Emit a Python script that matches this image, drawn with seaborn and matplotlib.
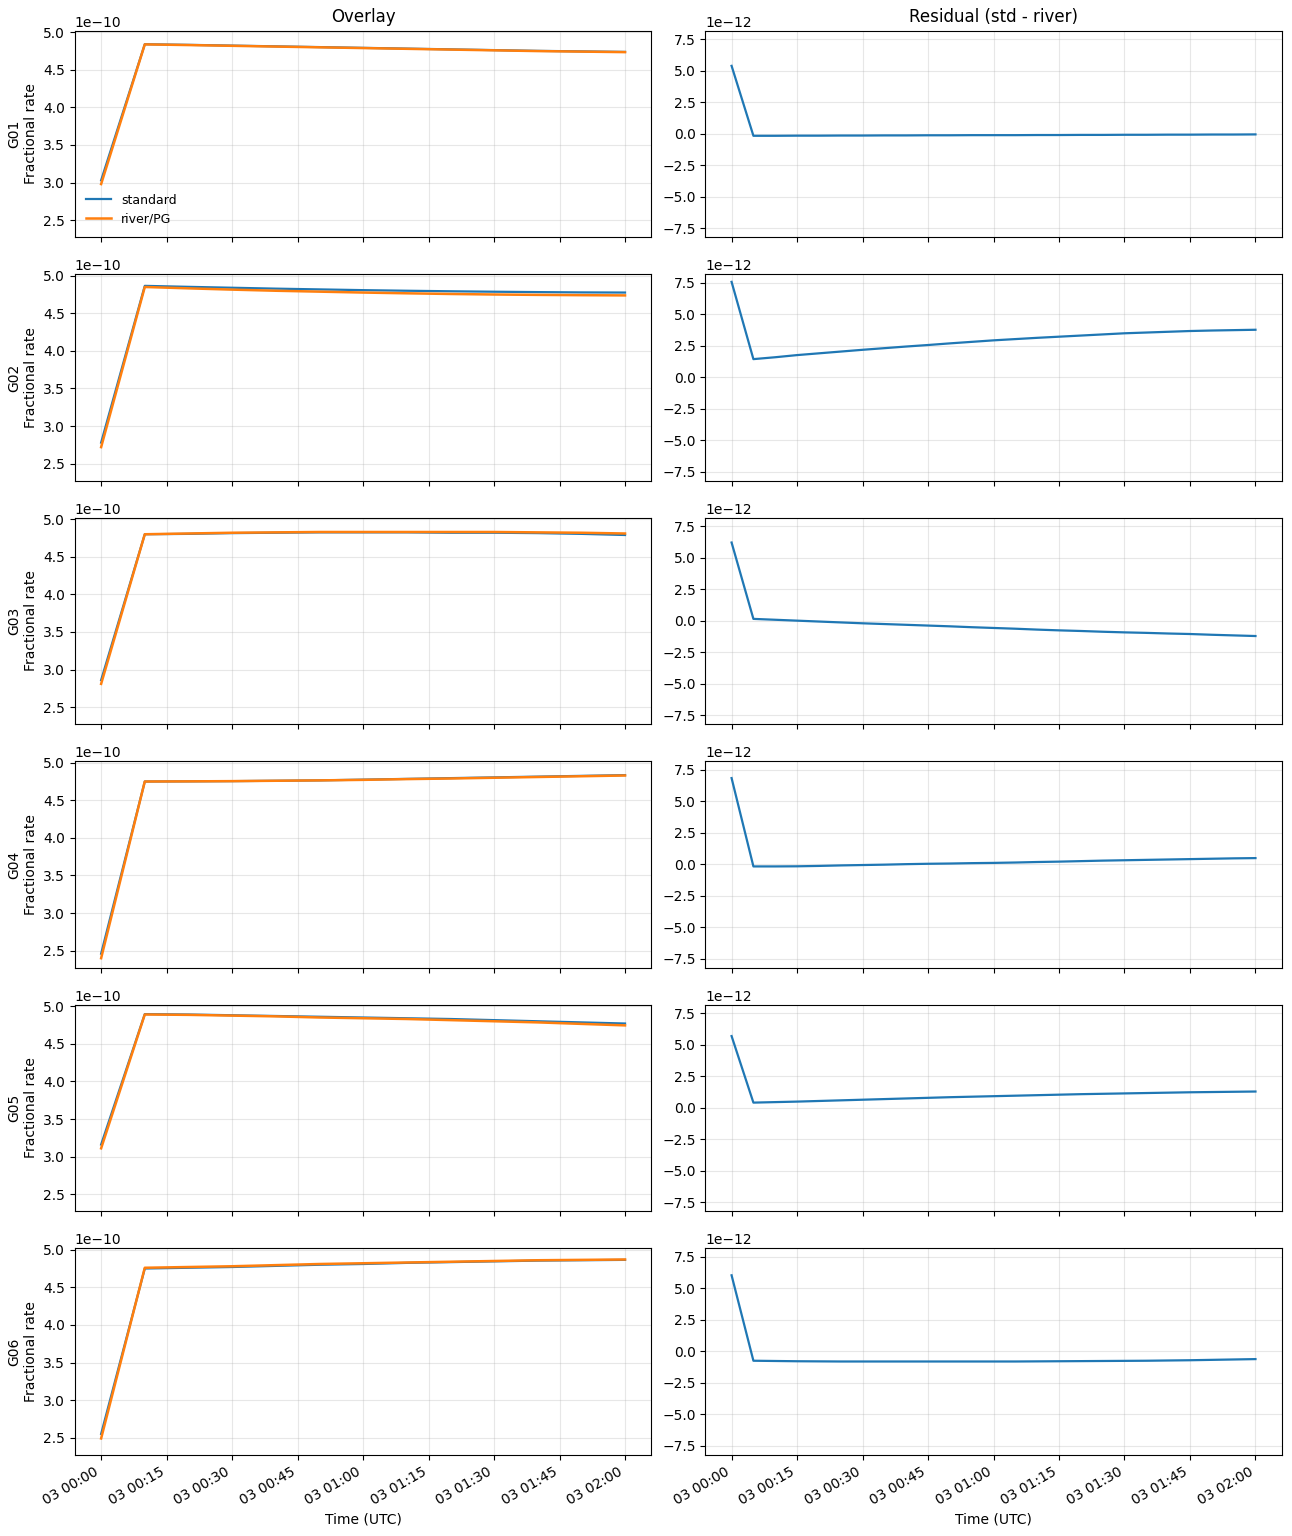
"""
Standard vs river/PG fractional rate comparison for G01-G06.
Left column overlays both solutions, right column shows the residual.
"""

import numpy as np
import pandas as pd
import matplotlib.pyplot as plt
import matplotlib.dates as mdates
import seaborn as sns

# overlay epochs every 10 min, residual epochs every 5 min
overlay_times = pd.date_range("2024-01-03 00:00", "2024-01-03 02:00", freq="10min")
resid_times = pd.date_range("2024-01-03 00:00", "2024-01-03 02:00", freq="5min")

sats = ["G01", "G02", "G03", "G04", "G05", "G06"]

# fractional rate, units of 1e-10
g01_std = [3.03, 4.840, 4.832, 4.822, 4.812, 4.802, 4.792, 4.782, 4.772, 4.762, 4.752, 4.745, 4.738]
g01_river = [2.98, 4.838, 4.829, 4.819, 4.809, 4.799, 4.789, 4.779, 4.769, 4.759, 4.749, 4.742, 4.735]
g02_std = [2.78, 4.865, 4.852, 4.840, 4.828, 4.818, 4.808, 4.800, 4.793, 4.787, 4.782, 4.778, 4.776]
g02_river = [2.72, 4.850, 4.832, 4.815, 4.800, 4.788, 4.776, 4.766, 4.757, 4.750, 4.745, 4.741, 4.738]
g03_std = [2.86, 4.800, 4.805, 4.815, 4.820, 4.825, 4.825, 4.825, 4.820, 4.820, 4.815, 4.805, 4.790]
g03_river = [2.81, 4.800, 4.810, 4.820, 4.825, 4.830, 4.830, 4.830, 4.830, 4.830, 4.825, 4.820, 4.810]
g04_std = [2.46, 4.750, 4.752, 4.755, 4.760, 4.765, 4.775, 4.785, 4.795, 4.805, 4.815, 4.825, 4.835]
g04_river = [2.40, 4.750, 4.752, 4.755, 4.760, 4.765, 4.772, 4.782, 4.790, 4.800, 4.810, 4.820, 4.830]
g05_std = [3.16, 4.895, 4.890, 4.880, 4.870, 4.860, 4.850, 4.840, 4.830, 4.815, 4.800, 4.785, 4.770]
g05_river = [3.11, 4.890, 4.885, 4.875, 4.865, 4.850, 4.840, 4.830, 4.815, 4.800, 4.785, 4.765, 4.745]
g06_std = [2.55, 4.750, 4.760, 4.770, 4.785, 4.800, 4.810, 4.825, 4.835, 4.845, 4.855, 4.860, 4.865]
g06_river = [2.49, 4.760, 4.770, 4.780, 4.795, 4.810, 4.820, 4.830, 4.840, 4.850, 4.860, 4.865, 4.870]

# residual std - river, units of 1e-12
g01_res = [5.40, -0.15, -0.15, -0.14, -0.14, -0.13, -0.13, -0.12, -0.12, -0.11, -0.11, -0.10, -0.10,
           -0.10, -0.09, -0.09, -0.08, -0.08, -0.07, -0.07, -0.06, -0.06, -0.05, -0.05, -0.04]
g02_res = [7.58, 1.45, 1.60, 1.77, 1.91, 2.05, 2.19, 2.32, 2.45, 2.57, 2.70, 2.82, 2.94,
           3.04, 3.14, 3.23, 3.32, 3.41, 3.50, 3.56, 3.62, 3.68, 3.72, 3.75, 3.78]
g03_res = [6.22, 0.16, 0.09, 0.02, -0.05, -0.12, -0.19, -0.25, -0.31, -0.37, -0.43, -0.50, -0.56,
           -0.62, -0.69, -0.75, -0.80, -0.86, -0.91, -0.95, -1.00, -1.04, -1.10, -1.15, -1.20]
g04_res = [6.85, -0.16, -0.16, -0.15, -0.12, -0.08, -0.05, -0.02, 0.02, 0.05, 0.07, 0.10, 0.12,
           0.15, 0.19, 0.22, 0.26, 0.30, 0.33, 0.36, 0.39, 0.42, 0.45, 0.48, 0.50]
g05_res = [5.70, 0.42, 0.46, 0.50, 0.55, 0.60, 0.65, 0.70, 0.75, 0.80, 0.85, 0.89, 0.93,
           0.97, 1.01, 1.05, 1.09, 1.12, 1.15, 1.18, 1.21, 1.24, 1.26, 1.28, 1.30]
g06_res = [6.04, -0.74, -0.76, -0.78, -0.79, -0.80, -0.80, -0.80, -0.80, -0.80, -0.80, -0.80, -0.80,
           -0.80, -0.79, -0.78, -0.77, -0.76, -0.75, -0.74, -0.72, -0.70, -0.67, -0.64, -0.61]

std_vals = [g01_std, g02_std, g03_std, g04_std, g05_std, g06_std]
river_vals = [g01_river, g02_river, g03_river, g04_river, g05_river, g06_river]
res_vals = [g01_res, g02_res, g03_res, g04_res, g05_res, g06_res]


def main():
    # plain matplotlib look, seaborn only draws the lines
    plt.rcParams["font.family"] = ["DejaVu Sans"]
    plt.rcParams["font.size"] = 10

    fig, axes = plt.subplots(6, 2, figsize=(12.92, 15.36), dpi=100, sharex=True)
    fig.subplots_adjust(left=0.058, right=0.992, top=0.980, bottom=0.053,
                        wspace=0.094, hspace=0.18)

    # left column shares y, right column symmetric around zero
    for ax in axes[1:, 0]:
        ax.sharey(axes[0, 0])
    for ax in axes[1:, 1]:
        ax.sharey(axes[0, 1])

    res_lim = max(max(abs(v) for v in r) for r in res_vals) * 1.08e-12

    for i, sat in enumerate(sats):
        ax_l, ax_r = axes[i, 0], axes[i, 1]

        sns.lineplot(x=overlay_times, y=np.array(std_vals[i]) * 1e-10, ax=ax_l,
                     color="#1f77b4", linewidth=1.6, label="standard")
        sns.lineplot(x=overlay_times, y=np.array(river_vals[i]) * 1e-10, ax=ax_l,
                     color="#ff7f0e", linewidth=1.8, label="river/PG")
        ax_l.set_ylabel(f"{sat}\nFractional rate")
        if ax_l.get_legend() is not None:
            ax_l.get_legend().remove()

        sns.lineplot(x=resid_times, y=np.array(res_vals[i]) * 1e-12, ax=ax_r,
                     color="#1f77b4", linewidth=1.6)
        ax_r.set_ylabel("")
        ax_r.set_ylim(-res_lim, res_lim)

        for ax in (ax_l, ax_r):
            ax.grid(True, color="#b0b0b0", alpha=0.3)

    axes[0, 0].legend(loc="lower left", frameon=False, fontsize=9)
    axes[0, 0].set_title("Overlay", fontsize=12)
    axes[0, 1].set_title("Residual (std - river)", fontsize=12)

    locator = mdates.MinuteLocator(byminute=[0, 15, 30, 45])
    for ax in axes[-1]:
        ax.xaxis.set_major_locator(locator)
        ax.xaxis.set_major_formatter(mdates.DateFormatter("%d %H:%M"))
        ax.set_xlabel("Time (UTC)")
        plt.setp(ax.get_xticklabels(), rotation=30, ha="right")

    fig.savefig("out.png", dpi=100)


if __name__ == "__main__":
    main()
